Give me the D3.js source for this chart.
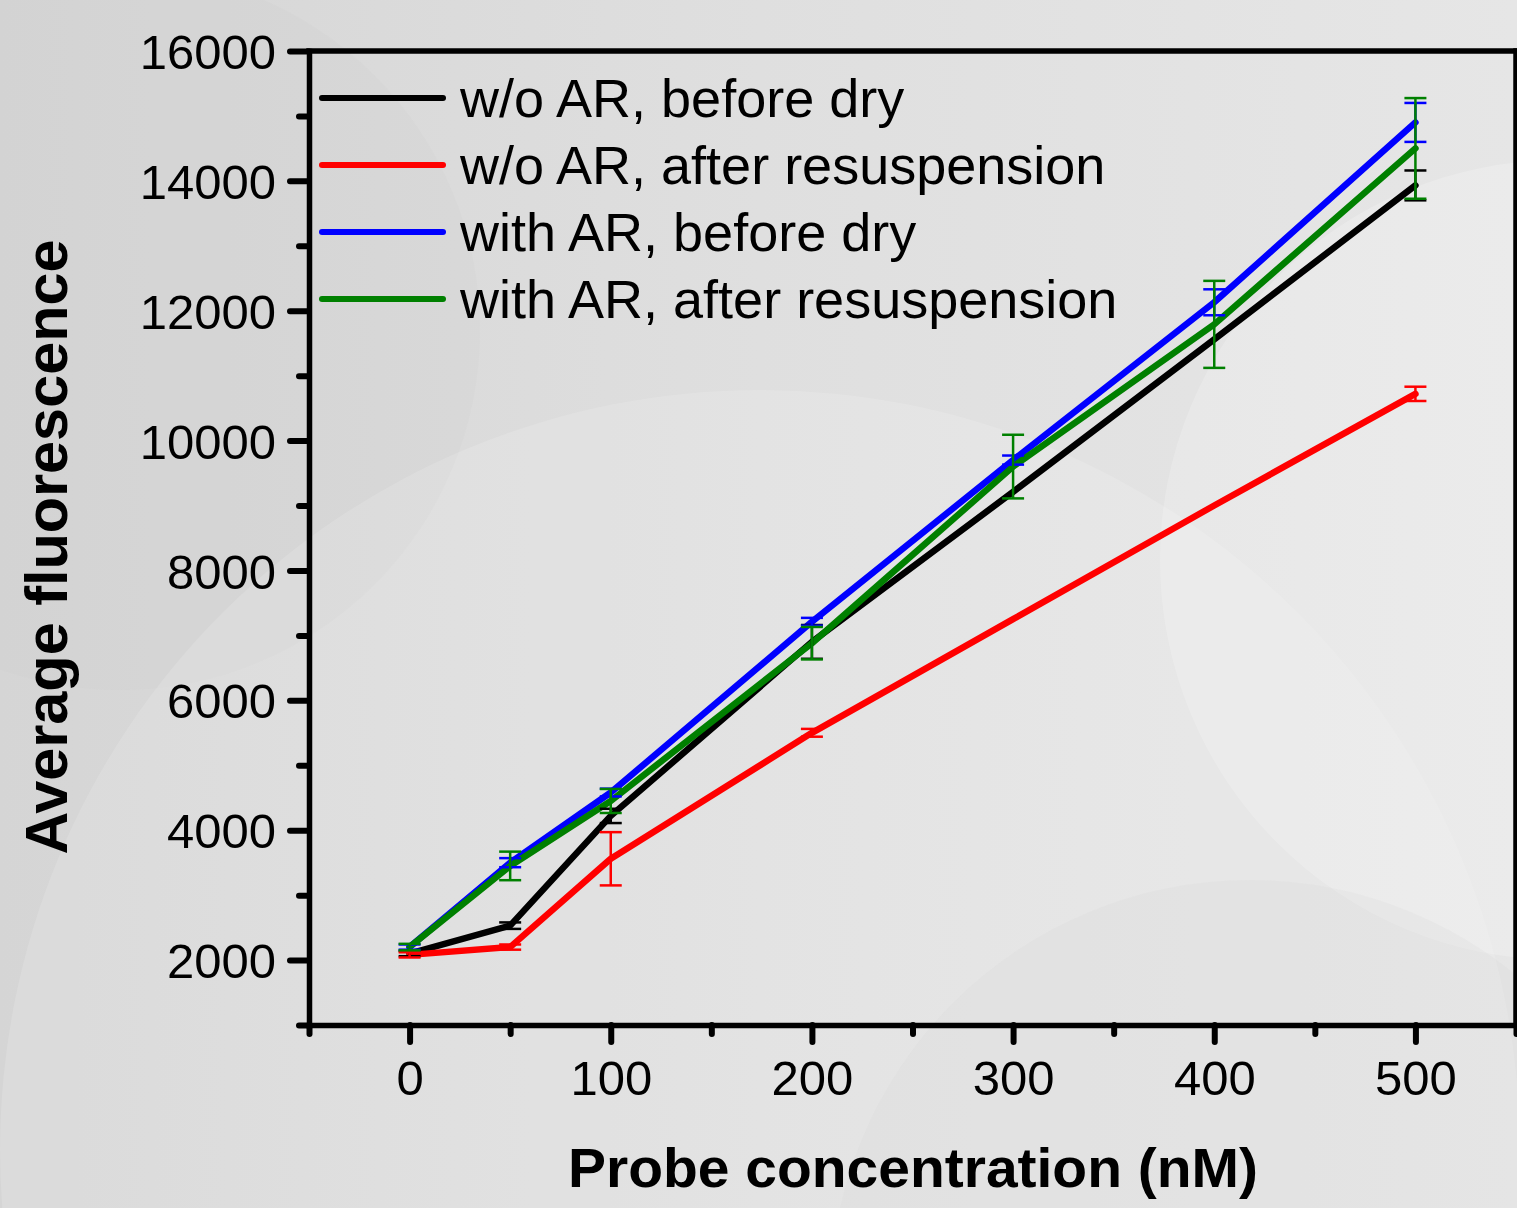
<!DOCTYPE html>
<html>
<head>
<meta charset="utf-8">
<script src="https://cdn.jsdelivr.net/npm/d3@7"></script>
<style>
  body { margin: 0; padding: 0; overflow: hidden; }
  svg { display: block; }
</style>
</head>
<body>
<div id="chart"></div>
<script>
// data
var conc = [0, 50, 100, 200, 300, 400, 500];
var woBefore = [2100, 2530, 4220, 6900, 9210, 11560, 13930];
var woBeforeErr = [40, 50, 110, 260, 0, 0, 230];
var woAfter = [2080, 2200, 3560, 5500, 7250, 9000, 10720];
var woAfterErr = [40, 40, 410, 60, 0, 0, 110];
var withBefore = [2200, 3500, 4580, 7210, 9700, 12130, 14900];
var withBeforeErr = [40, 70, 60, 60, 70, 200, 300];
var withAfter = [2200, 3450, 4450, 6880, 9600, 11790, 14500];
var withAfterErr = [50, 220, 185, 250, 490, 670, 775];
var seriesNames = ["w/o AR, before dry", "w/o AR, after resuspension", "with AR, before dry", "with AR, after resuspension"];
var seriesColors = ["#000000", "#ff0000", "#0000ff", "#008000"];
var xTickLabels = [0, 100, 200, 300, 400, 500];
var yTickLabels = [2000, 4000, 6000, 8000, 10000, 12000, 14000, 16000];

var series = [
  {name: seriesNames[0], color: seriesColors[0], vals: woBefore, err: woBeforeErr},
  {name: seriesNames[1], color: seriesColors[1], vals: woAfter, err: woAfterErr},
  {name: seriesNames[2], color: seriesColors[2], vals: withBefore, err: withBeforeErr},
  {name: seriesNames[3], color: seriesColors[3], vals: withAfter, err: withAfterErr}
];

var width = 1517, height = 1208;
var plot = {left: 309, right: 1516, top: 51, bottom: 1025};

var svg = d3.select("#chart").append("svg")
    .attr("width", width)
    .attr("height", height);

// background, gray with some soft circles
var defs = svg.append("defs");
var grad = defs.append("linearGradient").attr("id", "bg")
    .attr("x1", "0").attr("y1", "0").attr("x2", "1").attr("y2", "0");
grad.append("stop").attr("offset", "0").attr("stop-color", "#d5d5d5");
grad.append("stop").attr("offset", "0.5").attr("stop-color", "#dfdfdf");
grad.append("stop").attr("offset", "1").attr("stop-color", "#e6e6e6");
svg.append("rect").attr("width", width).attr("height", height).attr("fill", "url(#bg)");

var circles = [
  {cx: 120, cy: 330, r: 360, fill: "#c8c8c8", op: 0.15},
  {cx: 760, cy: 1150, r: 760, fill: "#ffffff", op: 0.14},
  {cx: 1560, cy: 560, r: 400, fill: "#ffffff", op: 0.2},
  {cx: 1250, cy: 1300, r: 420, fill: "#cfcfcf", op: 0.15}
];
svg.append("g").selectAll("circle")
    .data(circles)
    .enter().append("circle")
    .attr("cx", function(d) { return d.cx; })
    .attr("cy", function(d) { return d.cy; })
    .attr("r", function(d) { return d.r; })
    .attr("fill", function(d) { return d.fill; })
    .attr("fill-opacity", function(d) { return d.op; });

// scales
var x = d3.scaleLinear().domain([-50, 550]).range([plot.left, plot.right]);
var y = d3.scaleLinear().domain([1000, 16000]).range([plot.bottom, plot.top]);

var font = "'Liberation Sans', Arial, sans-serif";

// series lines
var line = d3.line()
    .x(function(d, i) { return x(conc[i]); })
    .y(function(d) { return y(d); });

svg.append("g").selectAll("path")
    .data(series)
    .enter().append("path")
    .attr("d", function(s) { return line(s.vals); })
    .attr("fill", "none")
    .attr("stroke", function(s) { return s.color; })
    .attr("stroke-width", 6.5)
    .attr("stroke-linejoin", "round")
    .attr("stroke-linecap", "round");

// error bars (skip the ones too small to show)
var capW = 11;
series.forEach(function(s) {
  var g = svg.append("g")
      .attr("stroke", s.color)
      .attr("stroke-width", 2.5);
  conc.forEach(function(c, i) {
    if (!s.err[i]) return;
    var cx = x(c), hi = y(s.vals[i] + s.err[i]), lo = y(s.vals[i] - s.err[i]);
    g.append("line").attr("x1", cx).attr("x2", cx).attr("y1", hi).attr("y2", lo);
    g.append("line").attr("x1", cx - capW).attr("x2", cx + capW).attr("y1", hi).attr("y2", hi);
    g.append("line").attr("x1", cx - capW).attr("x2", cx + capW).attr("y1", lo).attr("y2", lo);
  });
});

// frame
var frame = svg.append("g").attr("stroke", "#000").attr("stroke-width", 5.5).attr("stroke-linecap", "square");
frame.append("line").attr("x1", plot.left).attr("x2", plot.right + 3).attr("y1", plot.top).attr("y2", plot.top);
frame.append("line").attr("x1", plot.right).attr("x2", plot.right).attr("y1", plot.top).attr("y2", plot.bottom);

// axes
var xAxis = d3.axisBottom(x)
    .tickValues(d3.range(-50, 551, 50))
    .tickSize(0)
    .tickFormat(function(d) { return xTickLabels.indexOf(d) >= 0 ? d : ""; });
var gx = svg.append("g")
    .attr("transform", "translate(0," + plot.bottom + ")")
    .call(xAxis);
gx.select(".domain").attr("stroke", "#000").attr("stroke-width", 5.5);
gx.selectAll(".tick line")
    .attr("stroke", "#000")
    .attr("stroke-width", 6)
    .attr("stroke-linecap", "round")
    .attr("y2", function(d) { return xTickLabels.indexOf(d) >= 0 ? 17 : 9; });
gx.selectAll(".tick text")
    .attr("y", 70)
    .attr("dy", 0)
    .style("font-family", font)
    .style("font-size", "49px")
    .attr("fill", "#000");

var yAxis = d3.axisLeft(y)
    .tickValues(d3.range(1000, 16001, 1000))
    .tickSize(0)
    .tickFormat(function(d) { return yTickLabels.indexOf(d) >= 0 ? d : ""; });
var gy = svg.append("g")
    .attr("transform", "translate(" + plot.left + ",0)")
    .call(yAxis);
gy.select(".domain").attr("stroke", "#000").attr("stroke-width", 5.5);
gy.selectAll(".tick line")
    .attr("stroke", "#000")
    .attr("stroke-width", 6)
    .attr("stroke-linecap", "round")
    .attr("x2", function(d) { return yTickLabels.indexOf(d) >= 0 ? -19 : -10; });
gy.selectAll(".tick text")
    .attr("x", -33)
    .attr("dy", "0.36em")
    .style("font-family", font)
    .style("font-size", "49px")
    .attr("fill", "#000");
svg.selectAll(".domain").attr("stroke-linecap", "square");

// axis titles
svg.append("text")
    .attr("x", 913)
    .attr("y", 1187)
    .attr("text-anchor", "middle")
    .style("font-family", font)
    .style("font-weight", "bold")
    .style("font-size", "56px")
    .attr("textLength", 690)
    .attr("lengthAdjust", "spacingAndGlyphs")
    .text("Probe concentration (nM)");

svg.append("text")
    .attr("transform", "translate(67,547) rotate(-90)")
    .attr("text-anchor", "middle")
    .style("font-family", font)
    .style("font-weight", "bold")
    .style("font-size", "59px")
    .attr("textLength", 615)
    .attr("lengthAdjust", "spacingAndGlyphs")
    .text("Average fluorescence");

// legend
var legend = svg.append("g").selectAll("g")
    .data(series)
    .enter().append("g")
    .attr("transform", function(d, i) { return "translate(0," + (98 + i * 67) + ")"; });
legend.append("line")
    .attr("x1", 322).attr("x2", 443)
    .attr("y1", 0).attr("y2", 0)
    .attr("stroke", function(d) { return d.color; })
    .attr("stroke-width", 6)
    .attr("stroke-linecap", "round");
legend.append("text")
    .attr("x", 460)
    .attr("y", 19)
    .style("font-family", font)
    .style("font-size", "54px")
    .attr("fill", "#000")
    .text(function(d) { return d.name; });
</script>
</body>
</html>
